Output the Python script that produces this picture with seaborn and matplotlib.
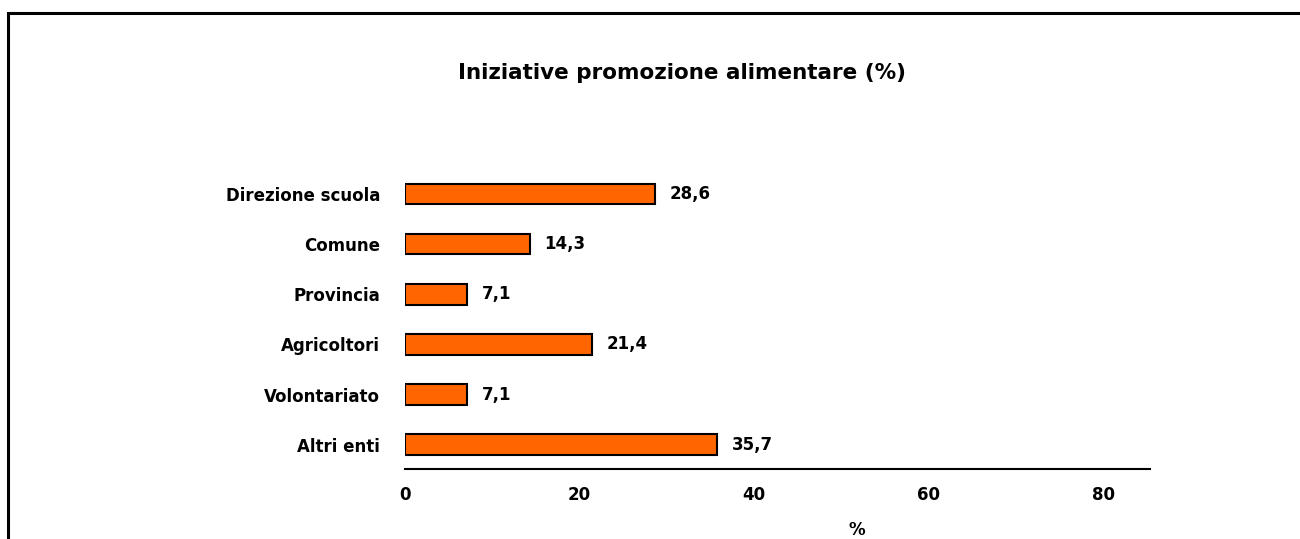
import matplotlib
matplotlib.use("Agg")
import matplotlib.pyplot as plt
import seaborn as sns
import pandas as pd
from matplotlib.patches import Rectangle

# data
categorie = ["Direzione scuola", "Comune", "Provincia", "Agricoltori", "Volontariato", "Altri enti"]
valori = [28.6, 14.3, 7.1, 21.4, 7.1, 35.7]
x_ticks = [0, 20, 40, 60, 80]

df = pd.DataFrame({"ente": categorie, "perc": valori})

sns.set_style("white")
plt.rcParams["font.family"] = ["DejaVu Sans"]
plt.rcParams["font.weight"] = "bold"
plt.rcParams["text.color"] = "black"
plt.rcParams["xtick.color"] = "black"
plt.rcParams["ytick.color"] = "black"

fig = plt.figure(figsize=(13, 5.39), dpi=100)
ax = fig.add_axes([0.3115, 0.1293, 0.5731, 0.5572])

sns.barplot(data=df, x="perc", y="ente", orient="h", color="#FF6600",
            saturation=1, width=0.41, edgecolor="black", linewidth=1.5, ax=ax)

for i, v in enumerate(valori):
    ax.text(v + 1.7, i, f"{v:.1f}".replace(".", ","), va="center", ha="left",
            fontsize=12, fontweight="bold", color="black")

ax.set_xlim(0, 85.35)
ax.set_ylim(5.49, -0.5)
ax.set_xticks(x_ticks)
ax.set_xticklabels([str(t) for t in x_ticks], fontsize=12, fontweight="bold")
ax.tick_params(axis="x", direction="out", length=5, width=1, color="#b0b0b0",
               labelcolor="black", pad=7)
ax.tick_params(axis="y", length=0, pad=18, labelsize=12, labelcolor="black")
for lab in ax.get_yticklabels():
    lab.set_fontweight("bold")
ax.set_xlabel("")
ax.set_ylabel("")
sns.despine(ax=ax, left=True, top=True, right=True)
ax.spines["bottom"].set_color("black")
ax.spines["bottom"].set_linewidth(1.5)

fig.text(682 / 1300, 1 - 73 / 539, "Iniziative promozione alimentare (%)",
         ha="center", va="center", fontsize=15.5, fontweight="bold", color="black")
fig.text(857 / 1300, 1 - 530 / 539, "%", ha="center", va="center",
         fontsize=12, fontweight="bold", color="black")

# chart frame (right and bottom edges fall outside the picture)
fig.patches.append(Rectangle((8 / 1300, -0.1), 1.2, 1 - 13 / 539 + 0.1,
                             transform=fig.transFigure, fill=False,
                             edgecolor="black", linewidth=2.2, zorder=0))

fig.savefig("out.png", dpi=100)
